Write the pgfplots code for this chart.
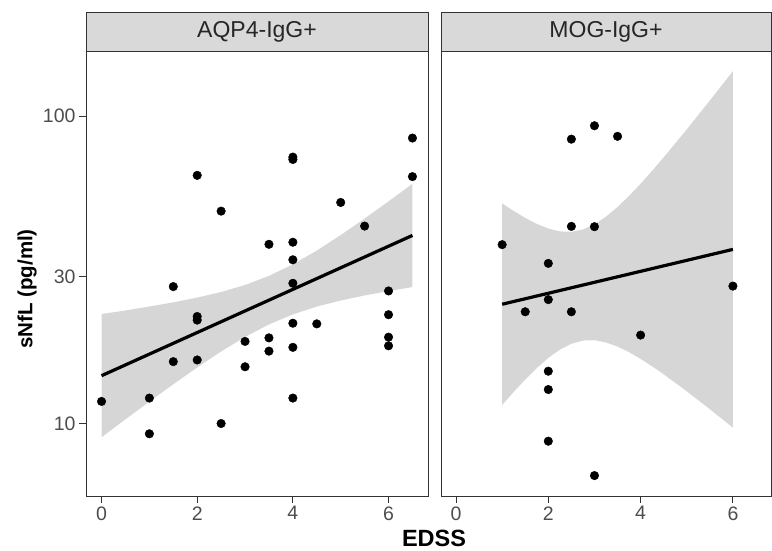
\documentclass[border=0pt]{standalone}
\usepackage{fontspec}
\setmainfont{Liberation Sans}
\usepackage{pgfplots}
\pgfplotsset{compat=1.18}
\definecolor{g20}{HTML}{333333}
\definecolor{g30}{HTML}{4D4D4D}
\definecolor{g85}{HTML}{D9D9D9}
\definecolor{rib}{HTML}{999999}
\begin{document}
\begin{tikzpicture}[x=1pt,y=1pt]
\path (0,0) rectangle (772,551);
% ---------- AQP4 ----------
\begin{axis}[at={(86pt,55pt)}, anchor=south west, width=342pt,
    ymode=log, scale only axis, height=445pt,
    xmin=-0.325, xmax=6.825, ymin=5.81, ymax=163,
    axis line style={g20, line width=0.9pt},
    xtick={0,2,4,6}, xtick pos=left, ytick pos=left,
    yminorticks=false,
    tick style={g20, line width=0.9pt},
    tick align=outside, major tick length=7pt,
    ticklabel style={g30, font=\fontsize{19.5}{19.5}\selectfont},
    /pgf/number format/assume math mode=true,
    ytick={10,30,100}, yticklabels={10,30,100}]
\addplot[only marks, mark=*, mark size=4.3pt, black] table {
x y
2 64.2
2.5 49.1
4 73.6
4 72.3
6.5 84.9
6.5 63.6
5 52.4
5.5 43.9
3.5 38.3
4 38.9
4 34.1
1.5 27.9
4 28.6
2 22.3
2 21.7
6 27.0
6 22.6
4 21.2
4.5 21.1
3 18.5
3.5 19.0
3.5 17.2
4 17.7
6 19.1
6 17.9
1.5 15.9
2 16.1
3 15.3
0 11.8
1 12.1
4 12.1
2.5 10.0
1 9.26
};
\addplot[draw=none, fill=rib, fill opacity=0.4] coordinates {
(0,22.71)(0.5,23.33)(1,24.02)(1.5,24.79)(2,25.69)(2.5,26.79)(3,28.23)(3.5,30.22)(4,32.95)(4.5,36.54)(5,41.04)(5.5,46.45)(6,52.82)(6.5,60.26)
(6.5,27.80)(6,26.98)(5.5,26.11)(5,25.13)(4.5,24.02)(4,22.65)(3.5,21.01)(3,19.13)(2.5,17.16)(2,15.22)(1.5,13.42)(1,11.78)(0.5,10.32)(0,9.02)
};
\addplot[black, line width=3.2pt] coordinates {(0,14.31) (6.5,40.93)};
\end{axis}
% ---------- MOG ----------
\begin{axis}[at={(441pt,55pt)}, anchor=south west, width=330pt,
    ymode=log, scale only axis, height=445pt,
    xmin=-0.325, xmax=6.825, ymin=5.81, ymax=163,
    axis line style={g20, line width=0.9pt},
    xtick={0,2,4,6}, xtick pos=left, ytick pos=left,
    yminorticks=false,
    tick style={g20, line width=0.9pt},
    tick align=outside, major tick length=7pt,
    ticklabel style={g30, font=\fontsize{19.5}{19.5}\selectfont},
    /pgf/number format/assume math mode=true,
    ytick=\empty]
\addplot[only marks, mark=*, mark size=4.3pt, black] table {
x y
1 38.2
1.5 23.1
2 33.2
2 25.3
2 14.8
2 12.9
2 8.76
2.5 84.2
2.5 43.8
2.5 23.1
3 93.1
3 43.7
3 6.77
3.5 86.0
4 19.4
6 28.0
};
\addplot[draw=none, fill=rib, fill opacity=0.4] coordinates {
(1,52.03)(1.25,49.14)(1.5,46.67)(1.75,44.63)(2,43.10)(2.25,42.19)(2.5,42.05)(2.75,42.78)(3,44.48)(3.25,47.11)(3.5,50.64)(3.75,55.05)(4,60.29)(4.25,66.44)(4.5,73.47)(5,90.57)(5.5,112.45)(6,140.1)
(6,9.70)(5.5,11.13)(5,12.73)(4.5,14.46)(4.25,15.35)(4,16.23)(3.75,17.06)(3.5,17.80)(3.25,18.36)(3,18.67)(2.75,18.62)(2.5,18.18)(2.25,17.39)(2,16.35)(1.75,15.15)(1.5,13.90)(1.25,12.67)(1,11.49)
};
\addplot[black, line width=3.2pt] coordinates {(1,24.44) (6,36.87)};
\end{axis}
% ---------- strips ----------
\draw[g20, fill=g85, line width=0.9pt] (86,500) rectangle (428,539);
\node[text=black!85, font=\fontsize{23}{23}\selectfont] at (257,519.5) {AQP4-IgG+};
\draw[g20, fill=g85, line width=0.9pt] (441,500) rectangle (771,539);
\node[text=black!85, font=\fontsize{23}{23}\selectfont] at (606,519.5) {MOG-IgG+};
% ---------- axis titles ----------
\node[font=\bfseries\fontsize{23.5}{23.5}\selectfont] at (434,13) {EDSS};
\node[font=\bfseries\fontsize{20.5}{20.5}\selectfont, rotate=90] at (27,262) {sNfL (pg/ml)};
\end{tikzpicture}
\end{document}
